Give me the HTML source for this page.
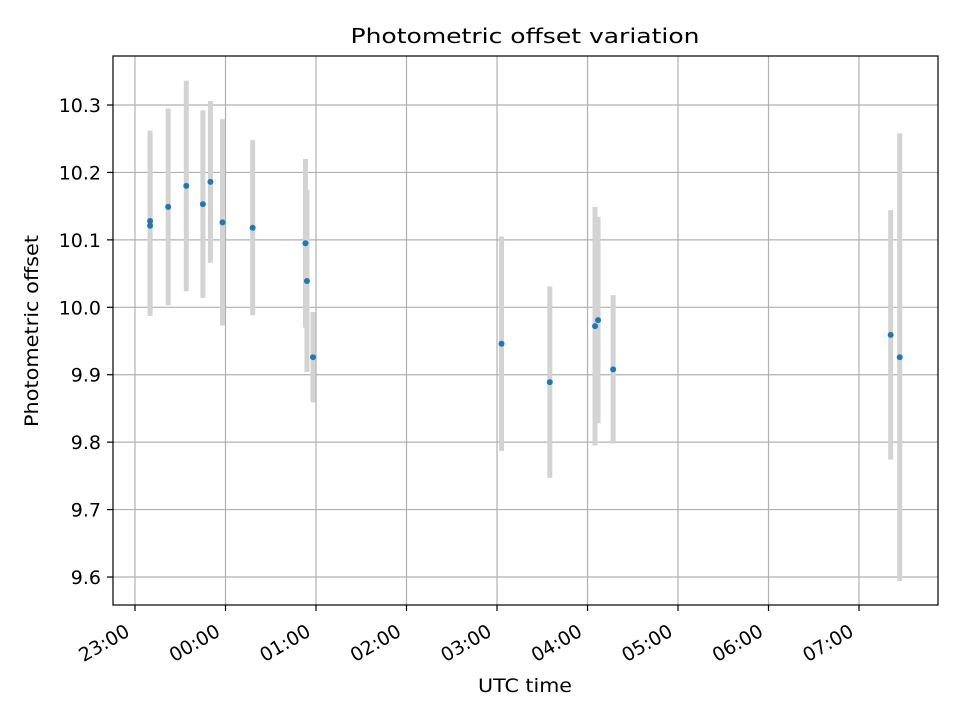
<!DOCTYPE html>
<html><head><meta charset="utf-8"><style>
body{margin:0;background:#fff;}
svg text{font-family:"DejaVu Sans","Liberation Sans",sans-serif;}
</style></head><body>
<svg id="chart" width="960" height="720" viewBox="0 0 960 720" xmlns="http://www.w3.org/2000/svg">
<rect x="0" y="0" width="960" height="720" fill="#fff"/>
<text x="525" y="43" font-size="20.5" text-anchor="middle" textLength="349" lengthAdjust="spacingAndGlyphs" fill="#000">Photometric offset variation</text>
<text x="525" y="692" font-size="19" text-anchor="middle" textLength="94" lengthAdjust="spacingAndGlyphs" fill="#000">UTC time</text>
<text transform="translate(38,331) rotate(-90)" font-size="19" text-anchor="middle" textLength="192" lengthAdjust="spacingAndGlyphs" fill="#000">Photometric offset</text>
<g id="grid"></g><g id="errs"></g><g id="pts"></g><g id="ticks"></g>
<rect x="113" y="56" width="825" height="549" fill="none" stroke="#000" stroke-width="1.2"/>
</svg>
<script>
// times in minutes from 23:00
const times=[10,10,22,34,45,50,58,78,113,114,118,243,275,305,307,317,501,507];
const values=[10.128,10.121,10.149,10.180,10.153,10.186,10.126,10.118,10.095,10.039,9.926,9.946,9.889,9.972,9.981,9.908,9.959,9.926];
const errors=[0.134,0.134,0.146,0.156,0.139,0.120,0.153,0.130,0.125,0.135,0.067,0.159,0.142,0.177,0.153,0.110,0.185,0.332];
const xTickMinutes=[0,60,120,180,240,300,360,420,480];
const xTickLabels=["23:00","00:00","01:00","02:00","03:00","04:00","05:00","06:00","07:00"];
const yTicks=[9.6,9.7,9.8,9.9,10.0,10.1,10.2,10.3];
const yTickLabels=["9.6","9.7","9.8","9.9","10.0","10.1","10.2","10.3"];

const NS="http://www.w3.org/2000/svg";
const xs=m=>135+m*(90.5/60);
const ys=v=>105+(10.3-v)*674.3;
function mk(tag,attrs,parent){const e=document.createElementNS(NS,tag);for(const k in attrs)e.setAttribute(k,attrs[k]);document.getElementById(parent).appendChild(e);return e;}

xTickMinutes.forEach((m,i)=>{
  const x=xs(m);
  const g=mk('line',{x1:x,x2:x,y1:56,y2:605,stroke:'#b0b0b0','stroke-width':1.2},'grid');
  
  
  const t=mk('line',{x1:x,x2:x,y1:605,y2:611,stroke:'#000','stroke-width':1.2},'ticks');
  
  
  const ax=x-4, ay=635;
  const l=mk('text',{x:ax,y:ay,'font-size':19,'text-anchor':'end',transform:`rotate(-30 ${ax} ${ay})`},'ticks');
  l.textContent=xTickLabels[i];
  
  
});
yTicks.forEach((v,i)=>{
  const y=ys(v);
  const g=mk('line',{x1:113,x2:938,y1:y,y2:y,stroke:'#b0b0b0','stroke-width':1.2},'grid');
  
  
  const t=mk('line',{x1:107,x2:113,y1:y,y2:y,stroke:'#000','stroke-width':1.2},'ticks');
  
  
  const l=mk('text',{x:101,y:y+7,'font-size':19,'text-anchor':'end'},'ticks');
  l.textContent=yTickLabels[i];
  
  
});
times.forEach((m,i)=>{
  const x=xs(m);
  const e=mk('line',{x1:x,x2:x,y1:ys(values[i]+errors[i]),y2:ys(values[i]-errors[i]),stroke:'#d3d3d3','stroke-width':5},'errs');
  
  
});
times.forEach((m,i)=>{
  const p=mk('circle',{cx:xs(m),cy:ys(values[i]),r:3,fill:'#1f77b4'},'pts');
  
  
});
</script>
</body></html>
